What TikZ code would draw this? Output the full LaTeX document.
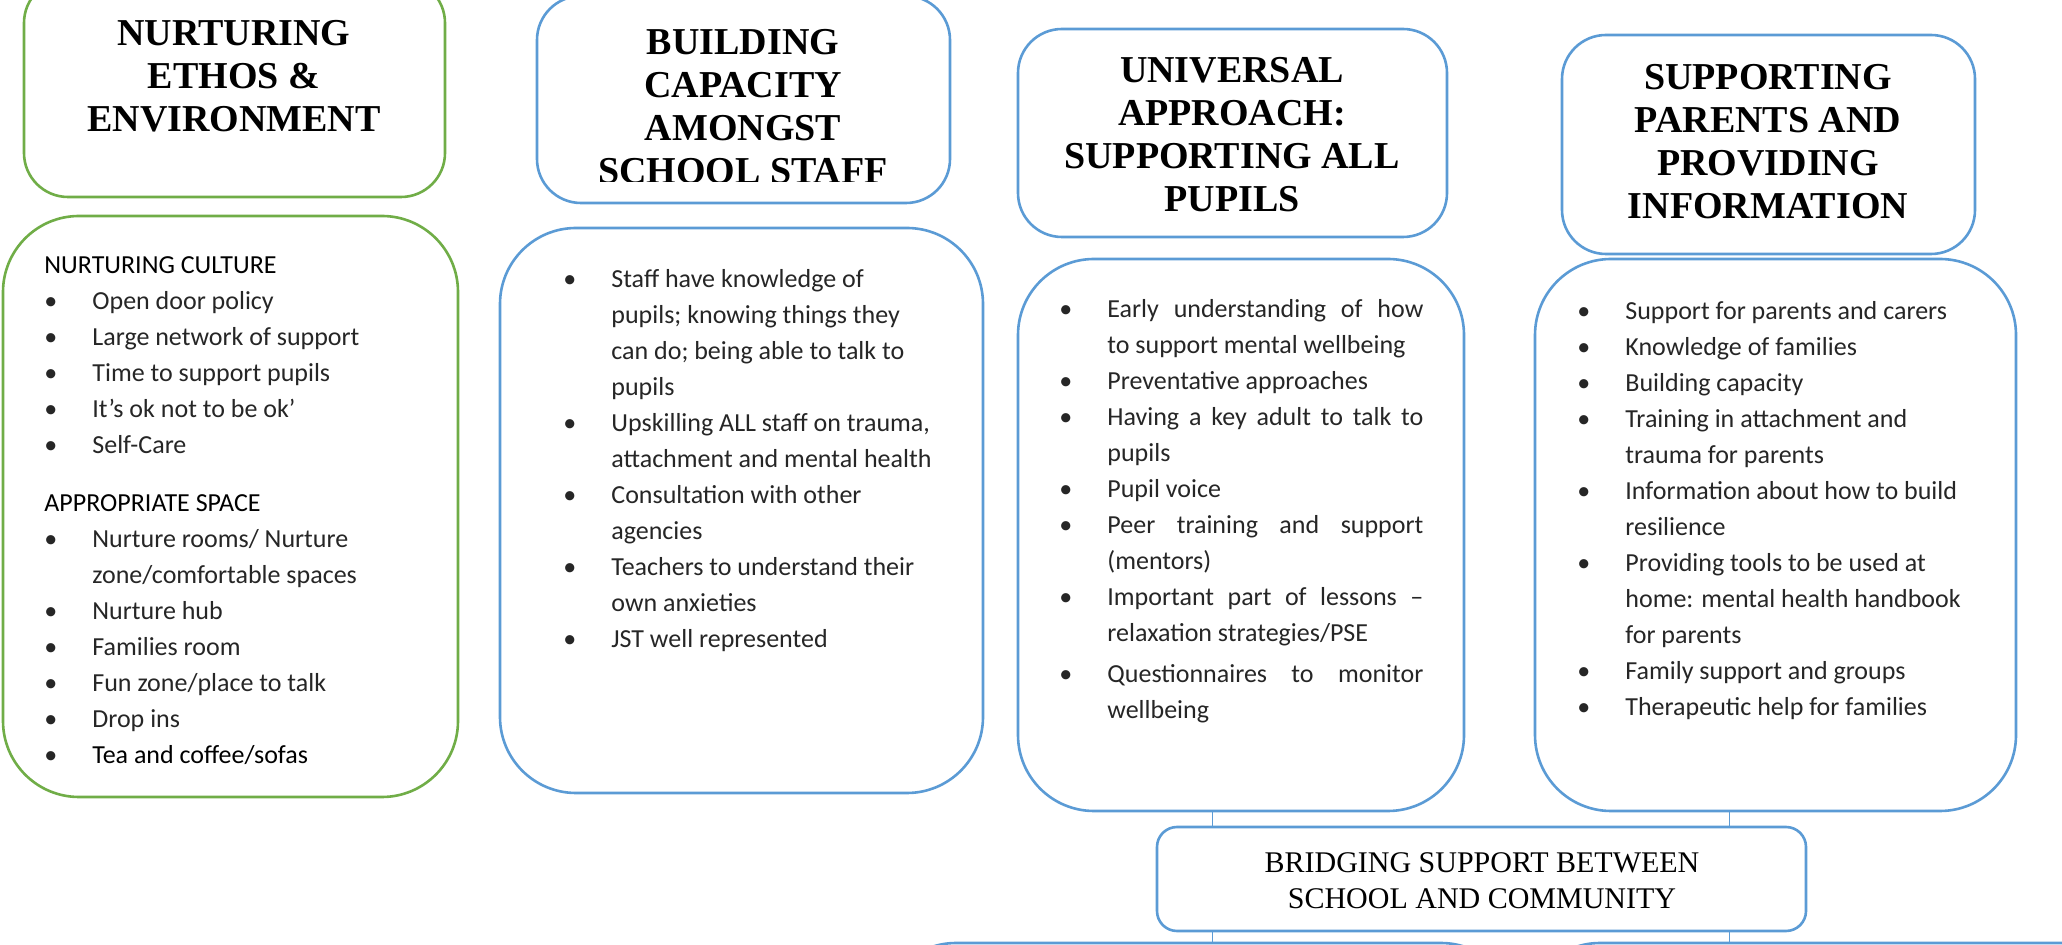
\documentclass[tikz,border=0pt]{standalone}
\usepackage{fontspec}
\usepackage{array}
\setmainfont{Liberation Serif}
\newfontfamily\bodyfont{Carlito}
\usetikzlibrary{fit}

\definecolor{boxgreen}{HTML}{70AD47}
\definecolor{boxblue}{HTML}{5B9BD5}

\newcommand{\itm}{\textbullet &}
\newcommand{\jline}[1]{\makebox[158pt][s]{#1}}
\newcommand{\sect}[1]{\multicolumn{2}{@{}l@{}}{\color{black}#1}}

\begin{document}
\begin{tikzpicture}[
    x=0.5pt, y=-0.5pt,
    headbox/.style={draw, line width=1.3pt, rounded corners=22pt, inner sep=0pt, fill=white},
    listbox/.style={draw, line width=1.3pt, rounded corners=38pt, inner sep=0pt, fill=white},
    headtext/.style={align=center, anchor=base, inner sep=0pt,
      font=\fontsize{19}{21.5}\selectfont\bfseries},
    listtext/.style={anchor=north west, inner sep=0pt, text=black!85,
      font=\bodyfont\fontsize{13}{18}\selectfont},
    link/.style={draw=boxblue, line width=0.5pt}]
  \useasboundingbox (0,0) rectangle (2062,945);
  \clip (0,0) rectangle (2062,945);

  % the four headings (text placed by the baseline of its last line)
  \node[headbox, draw=boxgreen, fit={(24,-21) (445,197)}] (h1) {};
  \node[headbox, draw=boxblue, fit={(537,-4) (950,203)}] (h2) {};
  \node[headbox, draw=boxblue, fit={(1018,29) (1447,237)}] (h3) {};
  \node[headbox, draw=boxblue, fit={(1562,35) (1975,254)}] (h4) {};

  \node[headtext] (t1) at (234,132) {NURTURING\\ETHOS \&\\ENVIRONMENT};
  \begin{scope}
    \clip (537,0) rectangle (950,182);
    \node[headtext] (t2) at (743,184) {BUILDING\\CAPACITY\\AMONGST\\SCHOOL STAFF};
  \end{scope}
  \node[headtext] (t3) at (1232,212) {UNIVERSAL\\APPROACH:\\SUPPORTING ALL\\PUPILS};
  \node[headtext] (t4) at (1768,219) {SUPPORTING\\PARENTS AND\\PROVIDING\\INFORMATION};

  % lists below the headings
  \node[listbox, draw=boxgreen, fit={(3,216) (458,797)}] (b1) {};
  \node[listbox, draw=boxblue, fit={(500,228) (983,793)}] (b2) {};
  \node[listbox, draw=boxblue, fit={(1018,259) (1464,811)}] (b3) {};
  \node[listbox, draw=boxblue, fit={(1535,259) (2016,811)}] (b4) {};

  \node[listtext] (l1) at (44,248) {\begin{tabular}{@{}p{24pt}@{}l@{}}
    \sect{NURTURING CULTURE}\\
    \itm Open door policy\\
    \itm Large network of support\\
    \itm Time to support pupils\\
    \itm It’s ok not to be ok’\\
    \itm Self-Care\\[11pt]
    \sect{APPROPRIATE SPACE}\\
    \itm Nurture rooms/ Nurture\\
    & zone/comfortable spaces\\
    \itm Nurture hub\\
    \itm Families room\\
    \itm Fun zone/place to talk\\
    \itm Drop ins\\
    \itm \color{black}Tea and coffee/sofas
  \end{tabular}};

  \node[listtext] (l2) at (563,262) {\begin{tabular}{@{}p{24pt}@{}l@{}}
    \itm Staff have knowledge of\\
    & pupils; knowing things they\\
    & can do; being able to talk to\\
    & pupils\\
    \itm Upskilling ALL staff on trauma,\\
    & attachment and mental health\\
    \itm Consultation with other\\
    & agencies\\
    \itm Teachers to understand their\\
    & own anxieties\\
    \itm JST well represented
  \end{tabular}};

  \node[listtext] (l3) at (1059,292) {\begin{tabular}{@{}p{24pt}@{}l@{}}
    \itm \jline{Early understanding of how}\\
    & to support mental wellbeing\\
    \itm Preventative approaches\\
    \itm \jline{Having a key adult to talk to}\\
    & pupils\\
    \itm Pupil voice\\
    \itm \jline{Peer training and support}\\
    & (mentors)\\
    \itm \jline{Important part of lessons –}\\
    & relaxation strategies/PSE\\[2.5pt]
    \itm \jline{Questionnaires to monitor}\\
    & wellbeing
  \end{tabular}};

  \node[listtext] (l4) at (1577,294) {\begin{tabular}{@{}p{24pt}@{}l@{}}
    \itm Support for parents and carers\\
    \itm Knowledge of families\\
    \itm Building capacity\\
    \itm Training in attachment and\\
    & trauma for parents\\
    \itm Information about how to build\\
    & resilience\\
    \itm Providing tools to be used at\\
    & home: mental health handbook\\
    & for parents\\
    \itm Family support and groups\\
    \itm Therapeutic help for families
  \end{tabular}};

  % bridge box and the boxes under it
  \node[headbox, draw=boxblue, rounded corners=10pt, fit={(1157,827) (1806,931)}] (bridge) {};
  \node[headtext, font=\fontsize{15}{18}\selectfont] (tb) at (1482,908)
    {BRIDGING SUPPORT BETWEEN\\SCHOOL AND COMMUNITY};
  \node[listbox, draw=boxblue, fit={(880,943) (1517,1100)}] (c1) {};
  \node[listbox, draw=boxblue, fit={(1524,943) (2200,1100)}] (c2) {};

  \coordinate (k1) at (1212,0);
  \coordinate (k2) at (1729,0);
  \draw[link] (b3.south -| k1) -- (bridge.north -| k1);
  \draw[link] (b4.south -| k2) -- (bridge.north -| k2);
  \draw[link] (bridge.south -| k1) -- (c1.north -| k1);
  \draw[link] (bridge.south -| k2) -- (c2.north -| k2);
\end{tikzpicture}
\end{document}
